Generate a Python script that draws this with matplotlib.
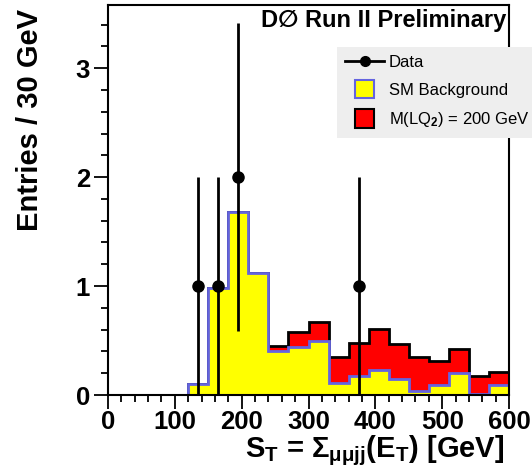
import numpy as np
import matplotlib
matplotlib.use('Agg')
import matplotlib.pyplot as plt
from matplotlib.lines import Line2D
from matplotlib.patches import Patch, Rectangle
from matplotlib.legend_handler import HandlerPatch
from matplotlib.ticker import MultipleLocator

plt.rcParams['font.family'] = ['Liberation Sans', 'DejaVu Sans']
plt.rcParams['mathtext.fontset'] = 'custom'
plt.rcParams['mathtext.rm'] = 'Liberation Sans:bold'
plt.rcParams['mathtext.it'] = 'Liberation Sans:bold'
plt.rcParams['mathtext.bf'] = 'Liberation Sans:bold'

# binning: 30 GeV bins from 0 to 600
edges = np.arange(0, 601, 30)
# SM background per bin
bg = [0, 0, 0, 0, 0.10, 0.98, 1.68, 1.12, 0.40, 0.44,
      0.50, 0.11, 0.17, 0.23, 0.15, 0.04, 0.09, 0.20, 0.005, 0.09]
# LQ2 (200 GeV) signal, stacked on background
sig = [0, 0, 0, 0, 0, 0, 0, 0, 0.05, 0.135,
       0.17, 0.235, 0.31, 0.38, 0.32, 0.305, 0.22, 0.225, 0.17, 0.12]
# data (non-empty bins only)
data_x = [135, 165, 195, 375]
data_n = [1, 1, 2, 1]

bg = np.array(bg)
total = bg + np.array(sig)
data_err = np.sqrt(data_n)

fig = plt.figure(figsize=(5.32, 4.73), dpi=100)
ax = fig.add_axes([108/532, 78/473, 401/532, 390/473])

ax.stairs(total, edges, fill=True, facecolor='red', edgecolor='black', lw=2)
ax.stairs(bg, edges, fill=True, facecolor='yellow', edgecolor='#6464e0', lw=2)
ax.errorbar(data_x, data_n, yerr=data_err, fmt='o', color='black', ms=8,
            elinewidth=2, capsize=0)

ax.set_xlim(0, 600)
ax.set_ylim(0, 3.58)
ax.xaxis.set_major_locator(MultipleLocator(100))
ax.xaxis.set_minor_locator(MultipleLocator(20))
ax.yaxis.set_major_locator(MultipleLocator(1))
ax.yaxis.set_minor_locator(MultipleLocator(0.2))
ax.tick_params(which='major', direction='out', length=10, width=1.3, labelsize=18.5)
ax.tick_params(which='minor', direction='out', length=5, width=1.3)
for lab in ax.get_xticklabels() + ax.get_yticklabels():
    lab.set_fontweight('bold')
for s in ax.spines.values():
    s.set_linewidth(1.5)
ax.tick_params(axis='x', pad=1)
ax.tick_params(axis='y', pad=3)

fig.text(30/532, 1 - 120/473, 'Entries / 30 GeV', rotation=90, ha='center',
         va='center', fontsize=21, fontweight='bold')
fig.text(504/532, 1 - 451/473,
         r'S$_\mathrm{T}$ = $\Sigma_{\mu\mu jj}$(E$_\mathrm{T}$) [GeV]',
         ha='right', va='center', fontsize=21, fontweight='bold')
fig.text(506/532, 1 - 20/473, 'D\u2205 Run II Preliminary', ha='right',
         va='center', fontsize=17, fontweight='bold')


def square(legend, orig_handle, xdescent, ydescent, width, height, fontsize):
    s = height * 1.6
    return Rectangle((width / 2 - s / 2 - xdescent, height / 2 - s / 2 - ydescent), s, s)


handles = [Line2D([], [], color='black', lw=2, marker='o', ms=7),
           Patch(facecolor='yellow', edgecolor='#6464e0', lw=1.5),
           Patch(facecolor='red', edgecolor='black', lw=1.5)]
labels = ['Data', 'SM Background', 'M(LQ$_2$) = 200 GeV']
leg = fig.legend(handles, labels, loc='upper left',
                 bbox_to_anchor=(337/532, 1 - 47/473), borderaxespad=0,
                 fontsize=12, handlelength=2.3, handletextpad=0.3,
                 labelspacing=0.75, borderpad=0.5, fancybox=False,
                 facecolor='#eeeeee', edgecolor='none', framealpha=1,
                 handler_map={Patch: HandlerPatch(patch_func=square)})
for t in leg.get_texts():
    t.set_fontweight('normal')

fig.savefig('out.png', dpi=100)
